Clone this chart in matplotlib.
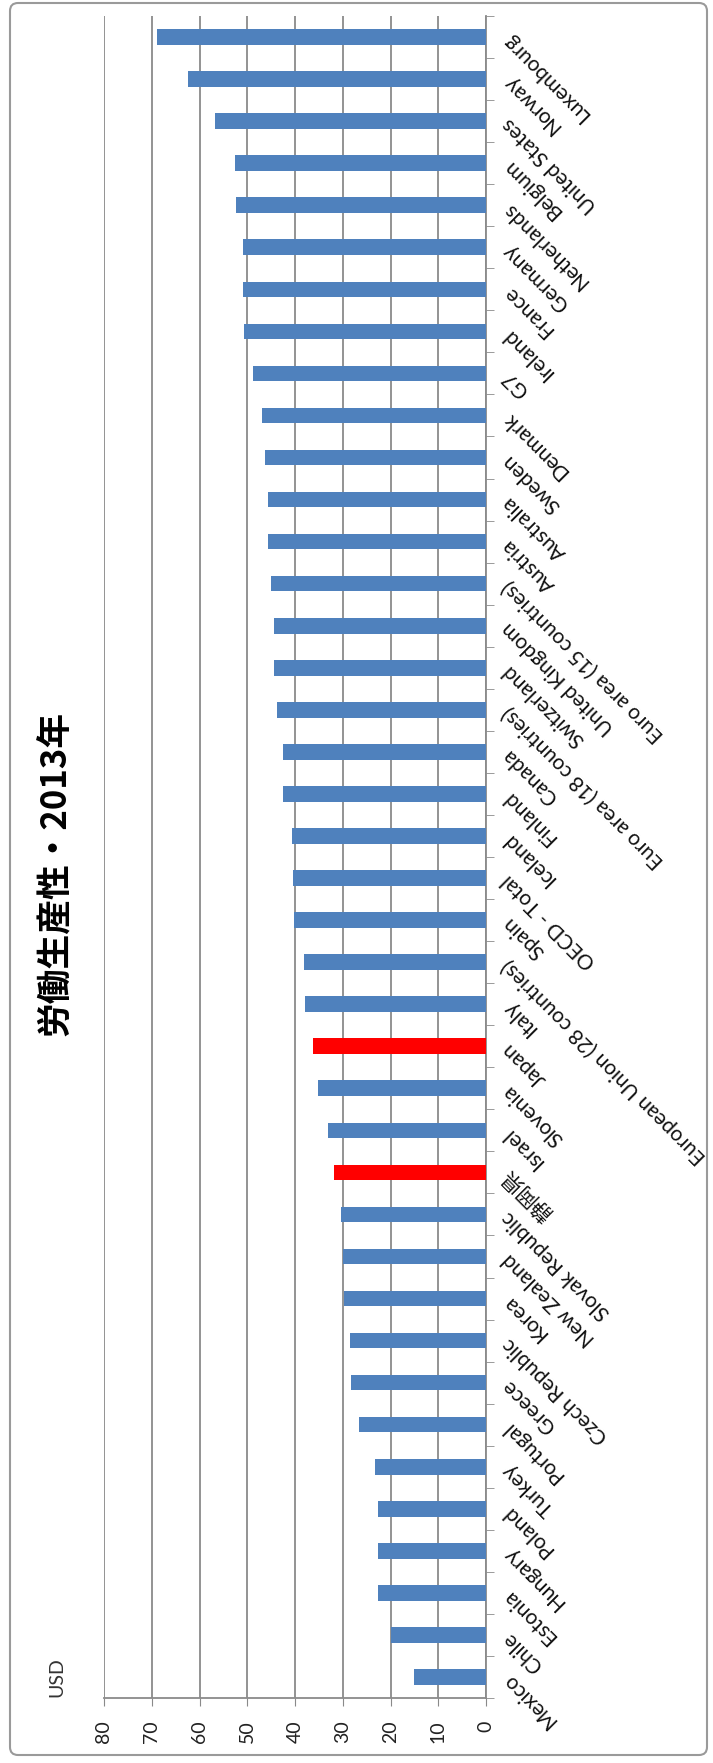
import numpy as np
import matplotlib
matplotlib.use("Agg")
import matplotlib.pyplot as plt
from matplotlib.patches import FancyBboxPatch
from matplotlib.transforms import IdentityTransform

# bottom -> top (the chart is drawn turned on its side)
countries = [
    "Mexico", "Chile", "Estonia", "Hungary", "Poland", "Turkey", "Portugal",
    "Greece", "Czech Republic", "Korea", "New Zealand", "Slovak Republic",
    "静岡県", "Israel", "Slovenia", "Japan", "Italy",
    "European Union (28 countries)", "Spain", "OECD - Total", "Iceland",
    "Finland", "Canada", "Euro area (18 countries)", "Switzerland",
    "United Kingdom", "Euro area (15 countries)", "Austria", "Australia",
    "Sweden", "Denmark", "G7", "Ireland", "France", "Germany", "Netherlands",
    "Belgium", "United States", "Norway", "Luxembourg",
]
values = [
    15.1, 19.9, 22.6, 22.7, 22.7, 23.3, 26.5,
    28.3, 28.5, 29.8, 29.9, 30.3,
    31.9, 33.0, 35.1, 36.2, 38.0,
    38.2, 40.3, 40.4, 40.7,
    42.6, 42.6, 43.7, 44.5,
    44.5, 45.1, 45.7, 45.7,
    46.2, 46.9, 48.7, 50.6, 50.8, 50.8, 52.3,
    52.5, 56.8, 62.5, 69.0,
]
highlight = ["Japan", "静岡県"]
value_ticks = [0, 10, 20, 30, 40, 50, 60, 70, 80]
title = "労働生産性・2013年"
unit = "USD"

W, H = 713, 1763
fig = plt.figure(figsize=(W / 100, H / 100), dpi=100)
label_font = ["Lato", "Noto Sans CJK JP", "DejaVu Sans"]
grey = "#8a8a8a"

ax = fig.add_axes([104 / W, 1 - 1698 / H, (486 - 104) / W, (1698 - 16) / H])
pos = np.arange(len(countries))
colors = ["#FF0000" if c in highlight else "#4F81BD" for c in countries]
ax.barh(pos, values, height=0.37, color=colors, zorder=3)

ax.set_xlim(80, 0)
ax.set_ylim(-0.5, len(countries) - 0.5)
ax.set_xticks(value_ticks)
ax.set_xticklabels([str(v) for v in value_ticks], rotation=90,
                   fontsize=14, family=label_font, color="#222222")
ax.tick_params(axis="x", length=6, color=grey, pad=10)
ax.grid(axis="x", color=grey, lw=1.3, zorder=0)

ax.yaxis.tick_right()
ax.set_yticks(pos)
ax.set_yticklabels(countries, rotation=135, rotation_mode="anchor",
                   ha="right", va="center", fontsize=15, family=label_font,
                   color="#111111")
ax.tick_params(axis="y", which="major", length=0, pad=14)
ax.set_yticks(np.arange(-0.5, len(countries), 1), minor=True)
ax.tick_params(axis="y", which="minor", length=6, color=grey)

for side in ["top", "left"]:
    ax.spines[side].set_visible(False)
for side in ["right", "bottom"]:
    ax.spines[side].set_color(grey)
    ax.spines[side].set_linewidth(1.3)

fig.text(55 / W, 1 - 873 / H, title, rotation=90, ha="center", va="center",
         fontsize=25, fontweight="bold", family=["Noto Sans CJK JP"])
fig.text(57 / W, 1 - 1677 / H, unit, rotation=90, ha="center", va="center",
         fontsize=14, family=label_font, color="#333333")

# chart frame
frame = FancyBboxPatch((10, 8), 697, 1752, boxstyle="round,pad=0,rounding_size=8",
                       fill=False, edgecolor="#9a9a9a", lw=1.5,
                       transform=IdentityTransform())
fig.add_artist(frame)

fig.savefig("out.png", dpi=100)
